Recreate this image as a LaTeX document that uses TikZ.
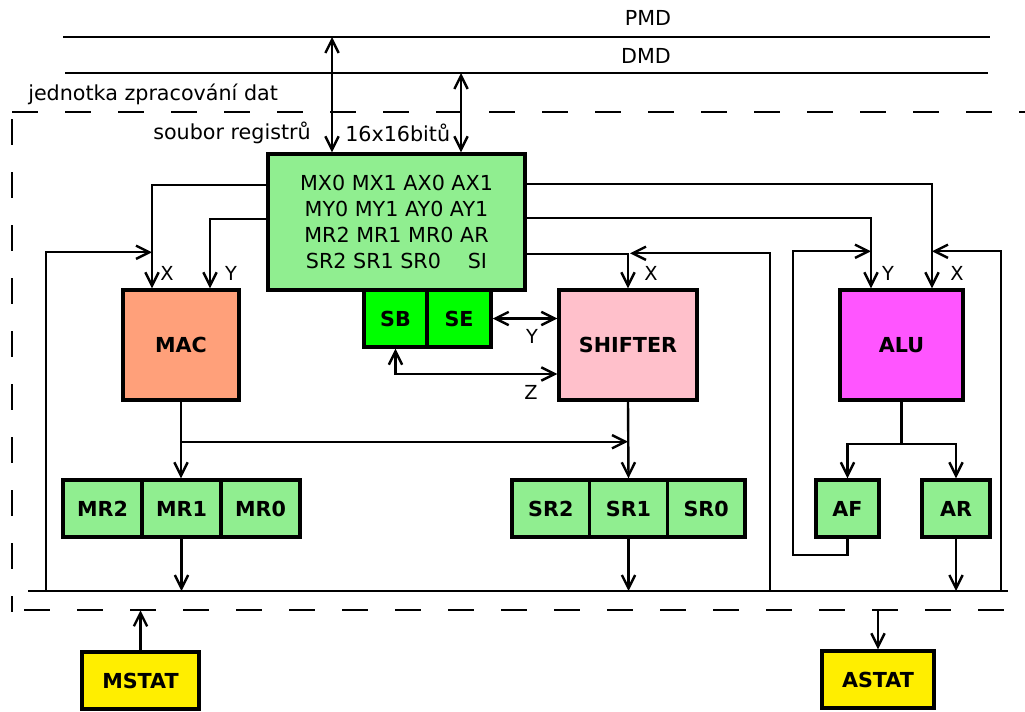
\documentclass[tikz,border=0pt]{standalone}
\usepackage{fontspec}
\setmainfont{DejaVu Sans}
\usetikzlibrary{arrows.meta,calc}
\definecolor{rfgreen}{RGB}{144,238,144}
\definecolor{brightgreen}{RGB}{0,255,0}
\definecolor{macorange}{RGB}{255,160,122}
\definecolor{shpink}{RGB}{255,192,203}
\definecolor{alumag}{RGB}{255,85,255}
\definecolor{styellow}{RGB}{255,238,0}
\tikzset{
  box/.style={draw=black, line width=2.6pt, inner sep=0pt, font=\fontsize{15.5}{18}\selectfont\bfseries},
  wh/.style 2 args={minimum width=#1*0.75pt, minimum height=#2*0.75pt},
  wire/.style={line width=1.8pt},
  lbl/.style={font=\fontsize{15.5}{18}\selectfont, inner sep=0pt},
  xy/.style={font=\fontsize{14.5}{16}\selectfont, inner sep=0pt},
  >={Straight Barb[length=10pt,width=10pt,line width=1.8pt]}
}
\begin{document}
\begin{tikzpicture}[x=0.75pt,y=-0.75pt]
\useasboundingbox (0,0) rectangle (1025,711);

% buses
\coordinate (pmdL) at (63,37);
\coordinate (pmdR) at (990,37);
\coordinate (dmdL) at (65,73);
\coordinate (dmdR) at (988,73);
\draw[wire] (pmdL) -- (pmdR);
\draw[wire] (dmdL) -- (dmdR);
\node[lbl] (pmd) at (648,18) {PMD};
\node[lbl] (dmd) at (646,56) {DMD};

% dashed unit boundary
\draw[wire, dash pattern=on 19.5pt off 20.25pt] (12,112) -- (1040,112);
\draw[wire, dash pattern=on 19.5pt off 20.25pt] (12,119) -- (12,612);
\draw[wire, dash pattern=on 19.5pt off 20.25pt] (24,610) -- (1040,610);
\node[lbl, anchor=west] (unit) at (28,94) {jednotka zpracování dat};
\node[lbl, anchor=east] (rfname) at (311,133) {soubor registrů};
\node[lbl, anchor=west] (rfsize) at (345,133) {16x16bitů};

% blocks
\node[box, wh={257}{136}, fill=rfgreen, font=\fontsize{15.5}{19.5}\selectfont, align=center] (rf) at (396.5,222)
  {MX0 MX1 AX0 AX1\\MY0 MY1 AY0 AY1\\MR2 MR1 MR0 AR\\SR2 SR1 SR0\hspace{1.3em}SI};
\node[box, wh={63}{57}, fill=brightgreen] (sb) at (395.5,318.5) {SB};
\node[box, wh={64}{57}, fill=brightgreen] (se) at (459,318.5) {SE};
\node[box, wh={116}{110}, fill=macorange] (mac) at (181,345) {MAC};
\node[box, wh={138}{110}, fill=shpink] (shifter) at (628,345) {SHIFTER};
\node[box, wh={123}{110}, fill=alumag] (alu) at (901.5,345) {ALU};
\node[box, wh={79}{57}, fill=rfgreen] (mr2) at (102.5,508.5) {MR2};
\node[box, wh={79}{57}, fill=rfgreen] (mr1) at (181.5,508.5) {MR1};
\node[box, wh={79}{57}, fill=rfgreen] (mr0) at (260.5,508.5) {MR0};
\node[box, wh={77.7}{57}, fill=rfgreen] (sr2) at (550.8,508.5) {SR2};
\node[box, wh={77.7}{57}, fill=rfgreen] (sr1) at (628.5,508.5) {SR1};
\node[box, wh={77.7}{57}, fill=rfgreen] (sr0) at (706.2,508.5) {SR0};
\node[box, wh={63}{57}, fill=rfgreen] (af) at (847.5,508.5) {AF};
\node[box, wh={68}{57}, fill=rfgreen] (ar) at (956,508.5) {AR};
\node[box, wh={117}{57}, fill=styellow] (mstat) at (140.5,680.5) {MSTAT};
\node[box, wh={112}{57}, fill=styellow] (astat) at (878,679.5) {ASTAT};

% result bus
\coordinate (busL) at (28,591);
\coordinate (busR) at (1008,591);
\draw[wire] (busL) -- (busR);

% memory buses to register file
\coordinate (pa) at (332,37);
\coordinate (da) at (461,73);
\draw[wire,<->] (pa) -- (pa |- rf.north);
\draw[wire,<->] (da) -- (da |- rf.north);

% register file to MAC
\draw[wire,->] ($(rf.north west)+(0,33)$) -| ($(mac.north)+(-29,0)$);
\draw[wire,->] ($(rf.north west)+(0,67)$) -| ($(mac.north)+(29,0)$);
\coordinate (fbm) at (46,591);
\draw[wire,->] (fbm) |- ($(mac.north)+(-29,-36)$);
\node[xy] (macx) at (167,273) {X};
\node[xy] (macy) at (231,273) {Y};

% register file to SHIFTER
\draw[wire,->] ($(rf.north east)+(0,102)$) -| (shifter.north);
\coordinate (fbs) at (770,591);
\draw[wire,->] (fbs) |- ($(shifter.north)+(2,-35)$);
\node[xy] (shx) at (651,273) {X};

% register file to ALU
\draw[wire,->] ($(rf.north east)+(0,66)$) -| ($(alu.north)+(-30.5,0)$);
\draw[wire,->] ($(rf.north east)+(0,32)$) -| ($(alu.north)+(30.5,0)$);
\coordinate (fba) at (1001,591);
\draw[wire,->] (fba) |- ($(alu.north)+(30.5,-37)$);
\coordinate (afc) at (793,555);
\draw[wire,->] (af.south) |- (afc) |- ($(alu.north)+(-30.5,-37)$);
\node[xy] (aluy) at (888,273) {Y};
\node[xy] (alux) at (957,273) {X};

% ALU outputs
\coordinate (aluj) at ($(alu.south)+(0,42)$);
\draw[wire] (alu.south) -- (aluj);
\draw[wire,->] (aluj) -| (af.north);
\draw[wire,->] (aluj) -| (ar.north);
\draw[wire,->] (ar.south) -- (ar.south |- busL);

% MAC outputs
\draw[wire,->] (mac.south) -- (mac.south |- mr1.north);
\coordinate (macj) at ($(mac.south)+(0,40)$);
\draw[wire,->] (macj) -- (macj -| shifter.south);
\draw[wire,->] (mr1.south) -- (mr1.south |- busL);

% SHIFTER outputs
\draw[wire,->] (shifter.south) -- (sr1.north);
\draw[wire,->] (sr1.south) -- (sr1.south |- busL);

% SB / SE to SHIFTER
\draw[wire,<->] (se.east) -- (se.east -| shifter.west);
\draw[wire,<->] (sb.south) |- ($(shifter.west)+(0,29)$);
\node[xy] (sey) at (532,336) {Y};
\node[xy] (sbz) at (531,392) {Z};

% status registers
\draw[wire,->] (mstat.north) -- ($(mstat.north)+(0,-40)$);
\draw[wire,->] ($(astat.north)+(0,-39)$) -- (astat.north);
\end{tikzpicture}
\end{document}
